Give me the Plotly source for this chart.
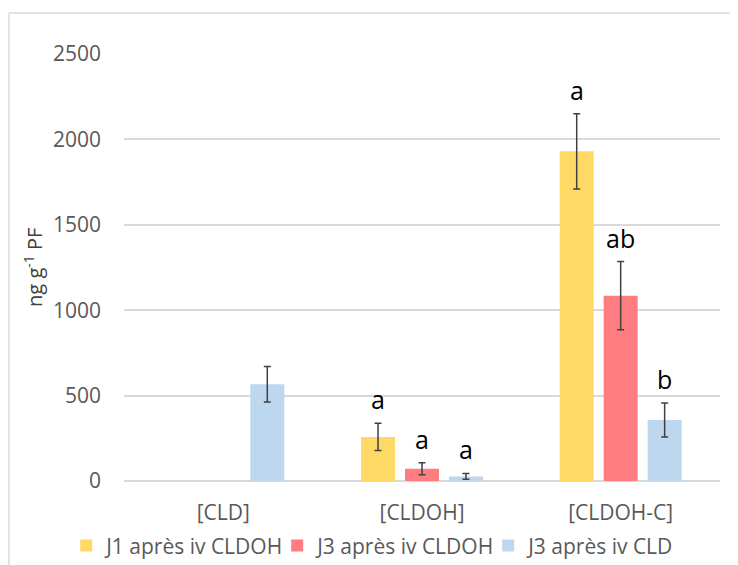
import plotly.graph_objects as go

# data
categories = ["[CLD]", "[CLDOH]", "[CLDOH-C]"]
series_names = ["J1 après iv CLDOH", "J3 après iv CLDOH", "J3 après iv CLD"]
j1_cldoh = [None, 258, 1930]
j1_cldoh_err = [None, 80, 220]
j3_cldoh = [None, 72, 1085]
j3_cldoh_err = [None, 35, 200]
j3_cld = [566, 27, 357]
j3_cld_err = [104, 17, 100]
letters_j1_cldoh = ["", "a", "a"]
letters_j3_cldoh = ["", "a", "ab"]
letters_j3_cld = ["", "a", "b"]
y_ticks = [0, 500, 1000, 1500, 2000, 2500]

colors = ["#FFD966", "#FF7C80", "#BDD7EE"]
FONT = "Open Sans, Segoe UI, sans-serif"
TXT = "#595959"

values = [j1_cldoh, j3_cldoh, j3_cld]
errors = [j1_cldoh_err, j3_cldoh_err, j3_cld_err]
letters = [letters_j1_cldoh, letters_j3_cldoh, letters_j3_cld]

fig = go.Figure()
for name, vals, errs, col in zip(series_names, values, errors, colors):
    fig.add_trace(go.Bar(
        x=categories, y=vals, name=name,
        marker=dict(color=col, line=dict(width=0)),
        error_y=dict(type="data", array=errs, visible=True,
                     color="#404040", thickness=1.5, width=3.5),
    ))

# significance letters above the error bars
annotations = []
slot = 44  # px between bar centres inside a group
for i, (vals, errs, labs) in enumerate(zip(values, errors, letters)):
    for cat, v, e, lab in zip(categories, vals, errs, labs):
        if not lab or v is None:
            continue
        annotations.append(dict(
            x=cat, y=v + e, xref="x", yref="y", text=lab, showarrow=False,
            xshift=(i - 1) * slot, yshift=5, yanchor="bottom",
            font=dict(family=FONT, size=25, color="#000000"),
        ))

annotations.append(dict(
    x=-0.152, y=0.5, xref="paper", yref="paper", text="ng g<sup>-1</sup> PF",
    textangle=-90, showarrow=False, xanchor="center", yanchor="middle",
    font=dict(family=FONT, size=20, color="#404040"),
))

# page body adds an 8px offset, so the figure is 8px smaller than the window
fig.update_layout(
    width=730, height=557,
    margin=dict(l=116, r=18, t=46, b=84, autoexpand=False),
    paper_bgcolor="white", plot_bgcolor="white",
    barmode="group", bargap=0.336, bargroupgap=0.227,
    font=dict(family=FONT, size=21, color=TXT),
    showlegend=True,
    legend=dict(orientation="h", x=-0.097, xanchor="left", y=-0.152, yanchor="middle",
                font=dict(size=21, color=TXT), itemwidth=30, entrywidth=166,
                tracegroupgap=0),
    annotations=annotations,
    shapes=[
        dict(type="line", xref="paper", yref="paper", x0=-0.193, x1=1.05, y0=1.096, y1=1.096,
             line=dict(color="#D9D9D9", width=1.5)),
        dict(type="line", xref="paper", yref="paper", x0=-0.193, x1=-0.193, y0=1.096, y1=-0.3,
             line=dict(color="#D9D9D9", width=1.5)),
    ],
)
fig.update_xaxes(showgrid=False, showline=False, ticks="", ticklabelstandoff=17,
                 tickfont=dict(size=21, color=TXT))
fig.update_yaxes(range=[0, 2500], tickvals=y_ticks, showgrid=True, gridcolor="#D9D9D9",
                 gridwidth=1.5, zeroline=True, zerolinecolor="#D9D9D9", zerolinewidth=1.5,
                 showline=False, ticks="", ticklabelstandoff=22,
                 tickfont=dict(size=21, color=TXT))

fig.write_html("out.html")
